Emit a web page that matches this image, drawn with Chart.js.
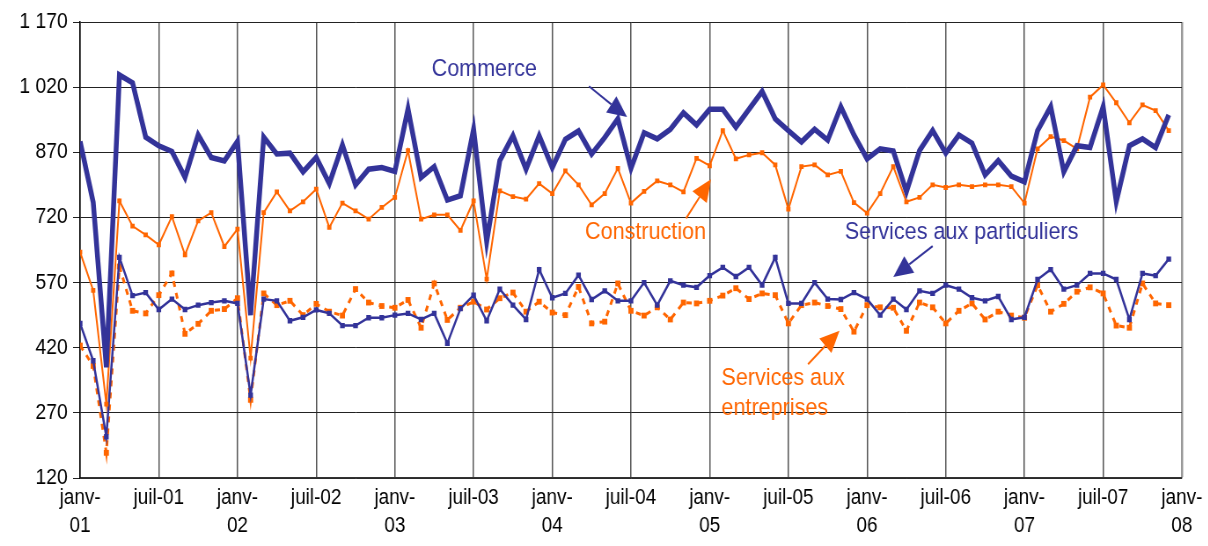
<!DOCTYPE html>
<html>
<head>
<meta charset="utf-8">
<script src="https://cdn.jsdelivr.net/npm/chart.js@4.4.1/dist/chart.umd.min.js"></script>
<style>
  html, body { margin: 0; padding: 0; background: #fff; overflow: hidden; }
  /* the reference is slightly squeezed horizontally: draw wider, then scale */
  #wrap { width: 1373px; height: 546px; transform: scaleX(0.88); transform-origin: 0 0; }
</style>
</head>
<body>
<div id="wrap"><canvas id="chart"></canvas></div>
<script>
// monthly values, janv-01 .. déc-07
const commerce = [895, 755, 375, 1048, 1030, 905, 885, 872, 812, 910, 858, 850,
  895, 495, 905, 866, 868, 825, 858, 798, 887, 795, 831, 835,
  826, 970, 812, 837, 760, 770, 923, 664, 851, 908, 831, 908,
  835, 900, 919, 866, 904, 947, 833, 915, 901, 923, 961, 933,
  969, 969, 928, 969, 1010, 947, 920, 894, 923, 898, 975, 910,
  855, 878, 873, 779, 874, 920, 868, 910, 891, 818, 851, 815,
  802, 920, 975, 825, 885, 881, 975, 756, 885, 901, 881, 956];

const construction = [640, 552, 290, 758, 700, 680, 657, 722, 634, 712, 731, 653,
  693, 396, 731, 779, 735, 756, 785, 697, 753, 735, 716, 743,
  766, 874, 716, 726, 726, 690, 758, 578, 781, 768, 762, 798,
  775, 827, 795, 749, 775, 833, 753, 780, 804, 795, 779, 856,
  839, 920, 855, 864, 869, 841, 739, 837, 841, 818, 826, 754,
  730, 775, 837, 756, 766, 795, 789, 795, 791, 795, 795, 791,
  753, 878, 906, 897, 878, 997, 1025, 984, 938, 979, 966, 920];

const particuliers = [476, 390, 215, 628, 540, 547, 508, 532, 508, 518, 524, 528,
  522, 311, 532, 528, 482, 490, 507, 499, 471, 471, 489, 489,
  495, 499, 485, 499, 430, 510, 541, 482, 555, 518, 485, 600,
  535, 545, 587, 531, 551, 528, 528, 570, 518, 574, 564, 559,
  586, 605, 584, 605, 564, 628, 522, 522, 570, 532, 531, 547,
  532, 495, 532, 508, 551, 545, 564, 555, 535, 528, 538, 485,
  490, 577, 600, 555, 564, 591, 591, 577, 485, 591, 586, 624];

const entreprises = [425, 378, 178, 607, 505, 499, 541, 591, 452, 475, 505, 509,
  534, 300, 545, 518, 528, 495, 521, 503, 494, 555, 524, 516,
  512, 530, 466, 568, 484, 512, 526, 508, 534, 547, 503, 526,
  501, 495, 560, 476, 480, 568, 505, 494, 513, 485, 524, 522,
  528, 540, 557, 532, 545, 541, 476, 518, 524, 516, 509, 457,
  518, 513, 512, 459, 524, 513, 476, 505, 522, 485, 503, 494,
  489, 564, 503, 521, 549, 559, 545, 471, 466, 568, 522, 518];

// one label every 6 months
const xTickLabels = [['janv-', '01'], 'juil-01', ['janv-', '02'], 'juil-02', ['janv-', '03'], 'juil-03',
  ['janv-', '04'], 'juil-04', ['janv-', '05'], 'juil-05', ['janv-', '06'], 'juil-06',
  ['janv-', '07'], 'juil-07', ['janv-', '08']];

// callouts, in chart units (month index, value)
const callouts = [
  { text: ['Commerce'], color: '#333399', at: [26.8, 1062], from: [38.8, 1022], to: [41.7, 951] },
  { text: ['Construction'], color: '#FF6600', at: [38.5, 686], from: [46.2, 718], to: [48.1, 808] },
  { text: ['Services aux particuliers'], color: '#333399', at: [58.3, 686], from: [65.0, 654], to: [62.0, 583] },
  { text: ['Services aux', 'entreprises'], color: '#FF6600', at: [48.9, 350], from: [55.5, 382], to: [57.9, 459] }
];

const BLUE = '#333399';
const ORANGE = '#FF6600';
const FONT = "'Liberation Sans', Arial, sans-serif";

const toPoints = arr => arr.map((v, i) => ({ x: i, y: v }));

const calloutPlugin = {
  id: 'callouts',
  afterDatasetsDraw(chart) {
    const { ctx, scales: { x, y } } = chart;
    ctx.save();
    callouts.forEach(c => {
      ctx.fillStyle = c.color;
      ctx.strokeStyle = c.color;
      ctx.font = `24.5px ${FONT}`;
      ctx.textAlign = 'left';
      ctx.textBaseline = 'middle';
      const tx = x.getPixelForValue(c.at[0]);
      const ty = y.getPixelForValue(c.at[1]);
      c.text.forEach((line, k) => ctx.fillText(line, tx, ty + k * 30));

      // arrow
      const x1 = x.getPixelForValue(c.from[0]), y1 = y.getPixelForValue(c.from[1]);
      const x2 = x.getPixelForValue(c.to[0]), y2 = y.getPixelForValue(c.to[1]);
      const ang = Math.atan2(y2 - y1, x2 - x1);
      const headLen = 22, headW = 10;
      const bx = x2 - headLen * Math.cos(ang), by = y2 - headLen * Math.sin(ang);
      ctx.lineWidth = 2;
      ctx.beginPath();
      ctx.moveTo(x1, y1);
      ctx.lineTo(bx, by);
      ctx.stroke();
      ctx.beginPath();
      ctx.moveTo(x2, y2);
      ctx.lineTo(bx + headW * Math.sin(ang), by - headW * Math.cos(ang));
      ctx.lineTo(bx - headW * Math.sin(ang), by + headW * Math.cos(ang));
      ctx.closePath();
      ctx.fill();
    });
    ctx.restore();
  }
};

new Chart(document.getElementById('chart'), {
  type: 'line',
  data: {
    datasets: [
      { label: 'Commerce', data: toPoints(commerce), borderColor: BLUE, borderWidth: 5.5,
        pointRadius: 0, tension: 0 },
      { label: 'Construction', data: toPoints(construction), borderColor: ORANGE, backgroundColor: ORANGE,
        borderWidth: 2, pointStyle: 'rect', pointRadius: 2, tension: 0 },
      { label: 'Services aux particuliers', data: toPoints(particuliers), borderColor: BLUE, backgroundColor: BLUE,
        borderWidth: 2.5, pointStyle: 'rect', pointRadius: 2, tension: 0 },
      { label: 'Services aux entreprises', data: toPoints(entreprises), borderColor: ORANGE, backgroundColor: ORANGE,
        borderWidth: 3, borderDash: [6, 6], pointStyle: 'rect', pointRadius: 2, tension: 0 }
    ]
  },
  options: {
    responsive: true,
    maintainAspectRatio: false,
    animation: false,
    layout: { padding: { left: 0, right: 30, top: 22, bottom: 0 } },
    plugins: { legend: { display: false }, tooltip: { enabled: false } },
    scales: {
      x: {
        type: 'linear', min: 0, max: 84,
        afterFit(scale) { scale.height = 68; },
        ticks: {
          stepSize: 6, autoSkip: false, maxRotation: 0, minRotation: 0, padding: 6,
          color: '#000', font: { family: FONT, size: 21.5, lineHeight: 1.3 },
          callback: v => xTickLabels[v / 6]
        },
        grid: {
          drawTicks: false,
          color: c => (c.tick && c.tick.value === 84 ? '#9a9a9a' : '#555'),
          lineWidth: c => (c.tick && c.tick.value === 84 ? 2.5 : 1.5)
        },
        border: { color: '#333', width: 1.5 }
      },
      y: {
        min: 120, max: 1170,
        afterFit(scale) { scale.width = 91; },
        ticks: {
          stepSize: 150, padding: 6, color: '#000', font: { family: FONT, size: 22 },
          callback: v => String(v).replace(/\B(?=(\d{3})+(?!\d))/g, ' ')
        },
        grid: { color: '#222', lineWidth: 1, tickLength: 8 },
        border: { color: '#000', width: 1.5 }
      }
    }
  },
  plugins: [calloutPlugin]
});
</script>
</body>
</html>
